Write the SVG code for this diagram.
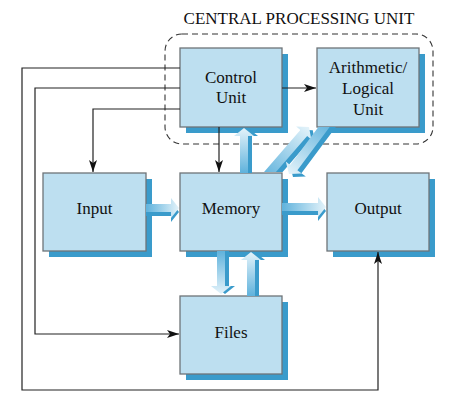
<svg xmlns="http://www.w3.org/2000/svg" width="451" height="403" viewBox="0 0 451 403">
<style>
.box{fill:#bddff0;stroke:#6e7478;stroke-width:1.3}
.shd{fill:#3a9bcb}
.lbl{font-family:"Liberation Serif","Times New Roman",serif;font-size:17px;fill:#111;text-anchor:middle}
.ln{fill:none;stroke:#222;stroke-width:1.2}
.fa{fill:url(#g)}
.fs{fill:#3a9bcb}
</style>
<defs>
<linearGradient id="g" x1="0" y1="0" x2="1" y2="0">
<stop offset="0" stop-color="#5fb2dc"/>
<stop offset="1" stop-color="#e4f3fa"/>
</linearGradient>
<marker id="ah" markerUnits="userSpaceOnUse" markerWidth="12" markerHeight="8" refX="12" refY="4" orient="auto">
<path d="M0,0 L12,4 L0,8 L3,4 z" fill="#111"/>
</marker>
<clipPath id="cUp"><rect x="0" y="0" width="451" height="172"/></clipPath>
<clipPath id="cDn"><rect x="0" y="127" width="451" height="276"/></clipPath>
</defs>
<rect width="451" height="403" fill="#fff"/>
<text class="lbl" x="299" y="24">CENTRAL PROCESSING UNIT</text>
<rect x="165" y="34" width="268" height="110" rx="17" ry="17" fill="none" stroke="#333" stroke-width="1.1" stroke-dasharray="6,4"/>
<g id="control-unit"><rect class="shd" x="186" y="54" width="102" height="79"/><rect class="box" x="180" y="48" width="102" height="79"/><text class="lbl" x="231" y="83">Control</text><text class="lbl" x="231" y="103">Unit</text></g>
<g id="alu"><rect class="shd" x="323" y="54" width="102" height="79"/><rect class="box" x="317" y="48" width="102" height="79"/><text class="lbl" x="368" y="73">Arithmetic/</text><text class="lbl" x="368" y="94">Logical</text><text class="lbl" x="368" y="115">Unit</text></g>
<g id="input"><rect class="shd" x="49" y="179" width="103" height="78"/><rect class="box" x="43" y="173" width="103" height="78"/><text class="lbl" x="94.5" y="214">Input</text></g>
<g id="memory"><rect class="shd" x="186" y="179" width="102" height="78"/><rect class="box" x="180" y="173" width="102" height="78"/><text class="lbl" x="231" y="214">Memory</text></g>
<g id="output"><rect class="shd" x="333" y="179" width="102" height="78"/><rect class="box" x="327" y="173" width="102" height="78"/><text class="lbl" x="378" y="214">Output</text></g>
<g id="files"><rect class="shd" x="186" y="302" width="102" height="78"/><rect class="box" x="180" y="296" width="102" height="78"/><text class="lbl" x="231" y="338">Files</text></g>
<g id="connectors">
<path class="ln" d="M180,68 H22 V390 H378 V252" marker-end="url(#ah)"/>
<path class="ln" d="M180,88 H35 V334 H179" marker-end="url(#ah)"/>
<path class="ln" d="M180,109 H93 V172" marker-end="url(#ah)"/>
<path class="ln" d="M219,127 V172" marker-end="url(#ah)"/>
<path class="ln" d="M282,88 H316" marker-end="url(#ah)"/>
<g transform="translate(146,212)"><path class="fs" d="M0,-4 H25 V-10 L33,0 L25,10 V4 H0 Z"/></g>
<g transform="translate(146,208)"><path class="fa" d="M0,-4 H25 V-10 L33,0 L25,10 V4 H0 Z"/></g>
<g transform="translate(282,211)"><path class="fs" d="M0,-4 H36 V-10 L44,0 L36,10 V4 H0 Z"/></g>
<g transform="translate(282,207)"><path class="fa" d="M0,-4 H36 V-10 L44,0 L36,10 V4 H0 Z"/></g>
<g transform="translate(248,173) rotate(-90)"><path class="fs" d="M0,-4 H37 V-10 L45,0 L37,10 V4 H0 Z"/></g>
<g transform="translate(244,173) rotate(-90)"><path class="fa" d="M0,-4 H37 V-10 L45,0 L37,10 V4 H0 Z"/></g>
<g transform="translate(225,251) rotate(90)"><path class="fs" d="M0,-4 H35 V-10 L43,0 L35,10 V4 H0 Z"/></g>
<g transform="translate(221,251) rotate(90)"><path class="fa" d="M0,-4 H35 V-10 L43,0 L35,10 V4 H0 Z"/></g>
<g transform="translate(255,296) rotate(-90)"><path class="fs" d="M0,-4 H36 V-10 L44,0 L36,10 V4 H0 Z"/></g>
<g transform="translate(251,296) rotate(-90)"><path class="fa" d="M0,-4 H36 V-10 L44,0 L36,10 V4 H0 Z"/></g>
<g clip-path="url(#cUp)">
<g transform="translate(268.6,181.3) rotate(-49.1)"><path class="fs" d="M0,-4.5 H59.5 V-10 L67.5,0 L59.5,10 V4.5 H0 Z"/></g>
<g transform="translate(264.8,178) rotate(-49.1)"><path class="fa" d="M0,-4.5 H59.5 V-10 L67.5,0 L59.5,10 V4.5 H0 Z"/></g>
</g>
<g clip-path="url(#cDn)">
<g transform="translate(332.8,123.6) rotate(126.7)"><path class="fs" d="M0,-4.5 H58.6 V-10 L66.6,0 L58.6,10 V4.5 H0 Z"/></g>
<g transform="translate(328.8,120.6) rotate(126.7)"><path class="fa" d="M0,-4.5 H58.6 V-10 L66.6,0 L58.6,10 V4.5 H0 Z"/></g>
</g>
</g>
</svg>
